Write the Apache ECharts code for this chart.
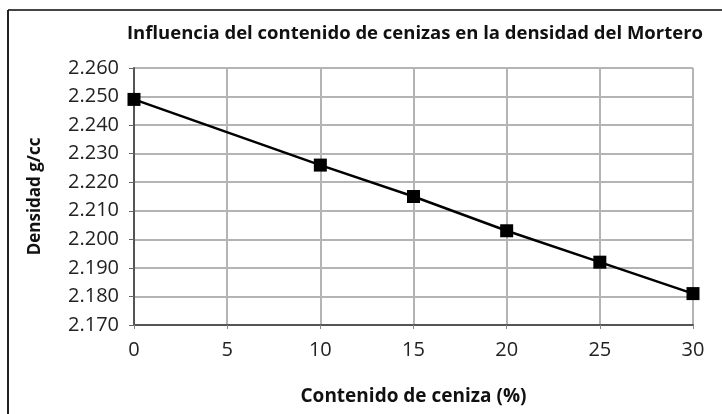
<!DOCTYPE html>
<html>
<head>
<meta charset="utf-8">
<script src="https://cdn.jsdelivr.net/npm/echarts@6/dist/echarts.min.js"></script>
<style>
  html, body { margin: 0; padding: 0; background: #fff; }
  #chart { width: 722px; height: 414px; }
</style>
</head>
<body>
<div id="chart"></div>
<script>
  // datos
  var ceniza = [0, 10, 15, 20, 25, 30];
  var densidad = [2.249, 2.226, 2.215, 2.203, 2.192, 2.181];

  var titulo = 'Influencia del contenido de cenizas en la densidad del Mortero';
  var nombreX = 'Contenido de ceniza (%)';
  var nombreY = 'Densidad g/cc';

  var puntos = [];
  for (var i = 0; i < ceniza.length; i++) {
    puntos.push([ceniza[i], densidad[i]]);
  }

  var chart = echarts.init(document.getElementById('chart'));
  var fuente = '"Open Sans", "Noto Sans", sans-serif';

  chart.setOption({
    animation: false,
    title: {
      text: titulo,
      left: 410,
      textAlign: 'center',
      top: 19,
      textStyle: { fontFamily: fuente, fontSize: 18.5, fontWeight: 'bold', color: '#111' }
    },
    graphic: [
      { type: 'line', shape: { x1: 8, y1: 10, x2: 722, y2: 10 }, style: { stroke: '#444', lineWidth: 2 } },
      { type: 'line', shape: { x1: 8, y1: 10, x2: 8, y2: 414 }, style: { stroke: '#222', lineWidth: 2 } },
      { type: 'line', shape: { x1: 134, y1: 68, x2: 693, y2: 68 }, style: { stroke: '#888', lineWidth: 2 } },
      { type: 'line', shape: { x1: 693, y1: 68, x2: 693, y2: 325 }, style: { stroke: '#888', lineWidth: 2 } }
    ],
    grid: { left: 134, right: 29, top: 68, bottom: 89 },
    xAxis: {
      type: 'value',
      min: 0,
      max: 30,
      interval: 5,
      name: nombreX,
      nameLocation: 'middle',
      nameGap: 62,
      nameTextStyle: { fontFamily: fuente, fontSize: 19, fontWeight: 'bold', color: '#111' },
      axisLine: { lineStyle: { color: '#555', width: 2 } },
      axisTick: { show: true, length: 4, lineStyle: { color: '#888' } },
      axisLabel: { fontFamily: fuente, fontSize: 20, color: '#222', margin: 15 },
      splitLine: { show: true, lineStyle: { color: '#b4b4b4', width: 2 } }
    },
    yAxis: {
      type: 'value',
      min: 2.17,
      max: 2.26,
      interval: 0.01,
      name: nombreY,
      nameLocation: 'middle',
      nameGap: 90,
      nameTextStyle: { fontFamily: fuente, fontSize: 17, fontWeight: 'bold', color: '#111' },
      axisLine: { show: true, lineStyle: { color: '#555', width: 2 } },
      axisTick: { show: true, length: 5, lineStyle: { color: '#666' } },
      axisLabel: {
        fontFamily: fuente, fontSize: 20, color: '#222', margin: 15,
        formatter: function (v) { return v.toFixed(3); }
      },
      splitLine: { show: true, lineStyle: { color: '#b4b4b4', width: 2 } }
    },
    series: [{
      type: 'line',
      data: puntos,
      symbol: 'rect',
      symbolSize: 13,
      lineStyle: { color: '#000', width: 2.5 },
      itemStyle: { color: '#000' }
    }]
  });
</script>
</body>
</html>
